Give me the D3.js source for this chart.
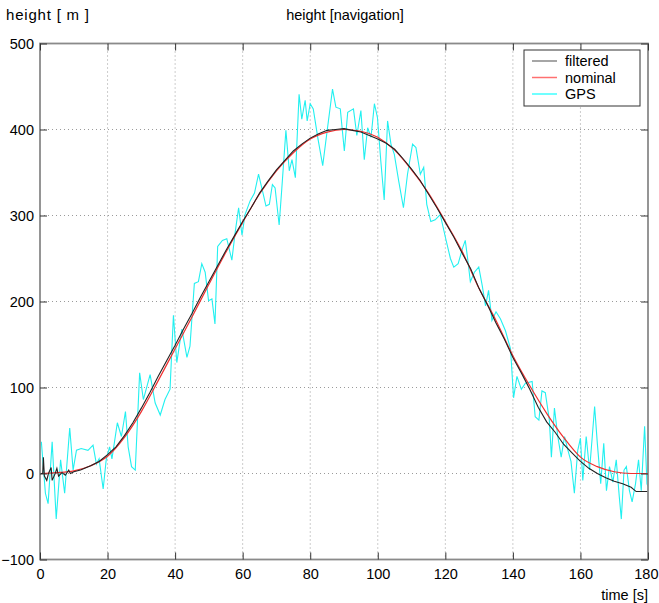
<!DOCTYPE html>
<html><head><meta charset="utf-8">
<script src="https://cdn.jsdelivr.net/npm/d3@7"></script>
<style>body{margin:0;background:#fff}svg{display:block}text{font-family:Arial,"Liberation Sans",Helvetica,sans-serif;fill:#000}</style>
</head><body><svg id="c" width="659" height="603"></svg>
<script>
const xTicks = [0,20,40,60,80,100,120,140,160,180];
const yTicks = [-100,0,100,200,300,400,500];
const seriesNames = ["filtered","nominal","GPS"];

const nominalT = [0,5,10,15,20,25,30,35,40,45,50,55,60,65,70,75,80,85,90,95,100,105,110,115,120,125,130,135,140,145,150,155,160,165,170,175,180];
const nominalH = [0,1,3,9,20,42,72,108,145,182,220,257,292,325,352,373,389,397,400,398,391,376,353,326,293,258,215,178,137,102,70,42,19,8,2,0,0];

const filteredT = [0,0.8,1,1.3,2,2.5,3.3,3.6,4.5,5,5.5,6.5,7.5,8.5,9,10,12,15,17.5,20,22.5,25,27.5,30,32.5,35,37.5,40,42.5,45,47.5,50,52.5,55,57.5,60,62.5,65,67.5,70,72.5,75,77.5,80,82.5,85,87.5,90,92.5,95,97.5,100,102.5,105,107.5,110,112.5,115,117.5,120,122.5,125,127.5,130,132.5,135,137.5,140,142.5,145,147.5,150,152.5,155,157.5,160,162.5,165,167.5,170,172.5,175,176.5,180];
const filteredH = [0,0,19,-3,-8,0,7,-8,0,6,-3,1,-2,4,0,2,4,9,14,22,31,44,59,76,94,113,131,149,168,186,205,223,241,259,276,293,309,326,340,353,364,375,383,390,395,399,400,401,399,397,393,389,384,377,366,354,341,325,309,292,275,256,238,215,196,175,156,135,117,98,77,60,48,34,24,14,6,0,-5,-9,-12,-16,-21,-21];

const gpsT = [0.4,1.6,2.4,3.6,4.8,6.1,7.3,8.8,9.8,10.8,12.2,14.2,15.7,16.7,17.5,18.7,19.6,20.6,21.3,22.9,24.1,25.3,26.1,27.1,28.2,29.5,30.6,32.6,34.1,35.6,37.0,38.5,39.5,40.5,42.0,43.5,44.4,45.7,46.9,47.9,48.9,49.9,50.9,51.8,52.6,54.0,55.3,56.8,57.8,58.8,59.8,60.7,62.2,63.5,64.7,65.9,66.9,67.9,68.8,69.6,70.8,71.6,72.8,73.8,74.6,75.6,76.7,77.5,78.5,79.1,80.0,80.9,82.3,83.7,84.9,86.6,87.6,88.9,90.1,91.1,92.8,93.8,95.0,96.0,97.0,98.0,99.0,99.9,100.9,101.9,102.9,103.9,104.9,106.2,107.6,108.8,110.3,111.3,112.6,113.6,114.5,115.7,117.0,118.5,120.0,121.5,122.5,123.8,125.1,125.9,126.6,127.4,128.6,129.9,130.9,131.9,132.8,133.8,135.0,136.3,137.8,139.3,140.2,141.2,142.5,143.7,145.7,146.6,147.7,148.6,149.6,150.8,151.4,152.3,153.3,154.3,155.3,156.3,157.2,158.2,159.2,160.0,160.7,161.7,162.7,163.5,164.2,165.0,166.0,166.9,167.7,168.6,169.6,170.6,171.5,172.1,172.9,173.6,174.5,175.3,176.3,177.2,178.0,179.0,179.7,180];
const gpsH = [37,-23,-35,37,-53,16,-23,53,4,27,29,27,33,11,17,-18,16,31,17,59,43,72,31,8,4,117,86,115,82,68,86,98,184,129,168,135,148,221,223,244,234,201,203,174,264,271,273,248,281,309,277,301,317,326,348,328,311,313,336,332,289,332,399,352,365,344,441,412,434,410,430,424,389,358,395,447,426,424,375,420,424,393,422,365,402,391,430,414,363,318,410,383,371,340,309,348,383,379,348,356,313,293,295,301,275,250,240,244,262,271,250,223,234,240,219,195,213,178,188,180,166,145,88,113,98,105,107,66,62,96,94,62,19,76,43,19,43,27,14,-23,27,41,-8,43,4,43,78,35,-12,35,-20,8,-10,16,-27,-53,4,8,-20,-33,-12,16,-20,55,-12,-15];

const svg = d3.select("#c");
const L = 40, R = 648, T = 43.5, B = 559.5;
const x = d3.scaleLinear().domain([0,180]).range([L,R]);
const y = d3.scaleLinear().domain([-100,500]).range([B,T]);

// grid
const g = svg.append("g");
g.selectAll(".gx").data(xTicks.slice(1,-1)).enter().append("line")
  .attr("x1",d=>x(d)).attr("x2",d=>x(d)).attr("y1",T).attr("y2",B)
  .attr("stroke","#9a9a9a").attr("stroke-width",1).attr("stroke-dasharray","1,3");
g.selectAll(".gy").data(yTicks.slice(1,-1)).enter().append("line")
  .attr("y1",d=>y(d)).attr("y2",d=>y(d)).attr("x1",L).attr("x2",R)
  .attr("stroke","#9a9a9a").attr("stroke-width",1).attr("stroke-dasharray","1,3");

// lines
svg.append("clipPath").attr("id","pc").append("rect")
  .attr("x",L).attr("y",T).attr("width",R-L).attr("height",B-T);
const plot = svg.append("g").attr("clip-path","url(#pc)");
const line = d3.line().x(d=>x(d[0])).y(d=>y(d[1]));
plot.append("path").datum(d3.zip(gpsT,gpsH)).attr("d",line)
  .attr("fill","none").attr("stroke","#22f0f0").attr("stroke-width",1.1);
plot.append("path").datum(d3.zip(nominalT,nominalH)).attr("d",d3.line().x(d=>x(d[0])).y(d=>y(d[1])).curve(d3.curveMonotoneX))
  .attr("fill","none").attr("stroke","#f03030").attr("stroke-width",1.2);
plot.append("path").datum(d3.zip(filteredT,filteredH)).attr("d",line)
  .attr("fill","none").attr("stroke","#222").attr("stroke-width",1.1);

// frame
svg.append("rect").attr("x",L).attr("y",T).attr("width",R-L).attr("height",B-T)
  .attr("fill","none").attr("stroke","#8a8a8a").attr("stroke-width",1.8);

// axes
const ax = (gen, tr) => {
  const a = svg.append("g").attr("transform",tr).call(gen);
  a.select(".domain").remove();
  a.selectAll(".tick line").attr("stroke","#333");
  a.selectAll("text").style("font-size","14.5px").style("font-family","Arial,'Liberation Sans',sans-serif").attr("fill","#000");
  return a;
};
const ab = ax(d3.axisBottom(x).tickValues(xTicks).tickFormat(d3.format("d")).tickSizeInner(-7).tickSizeOuter(0).tickPadding(9), `translate(0,${B})`);
ab.selectAll(".tick text").filter(d=>d===180).attr("text-anchor","end").attr("x",10);
ax(d3.axisLeft(y).tickValues(yTicks).tickFormat(d3.format("d")).tickSizeInner(-7).tickSizeOuter(0).tickPadding(6), `translate(${L},0)`);
const at = ax(d3.axisTop(x).tickValues(xTicks).tickSizeInner(-7).tickSizeOuter(0), `translate(0,${T})`);
at.selectAll("text").remove();
const ar = ax(d3.axisRight(y).tickValues(yTicks).tickSizeInner(-7).tickSizeOuter(0), `translate(${R},0)`);
ar.selectAll("text").remove();

// titles
svg.append("text").attr("x",6).attr("y",20).style("font-size","15px").style("letter-spacing","0.8px").attr("xml:space","preserve").text("height [ m ]");
svg.append("text").attr("x",345).attr("y",20).attr("text-anchor","middle").style("font-size","14.5px").text("height [navigation]");
svg.append("text").attr("x",648).attr("y",600).attr("text-anchor","end").style("font-size","14.5px").text("time [s]");

// legend
const lg = svg.append("g");
lg.append("rect").attr("x",524).attr("y",50).attr("width",116).attr("height",56)
  .attr("fill","#fff").attr("stroke","#333").attr("stroke-width",1);
const lcol = ["#888","#ff7070","#40ffff"];
seriesNames.forEach((n,i)=>{
  const yy = 61 + i*16.5;
  lg.append("line").attr("x1",532).attr("x2",557).attr("y1",yy).attr("y2",yy).attr("stroke",lcol[i]).attr("stroke-width",1.5);
  lg.append("text").attr("x",565).attr("y",yy+5).style("font-size","14.5px").text(n);
});
</script></body></html>
